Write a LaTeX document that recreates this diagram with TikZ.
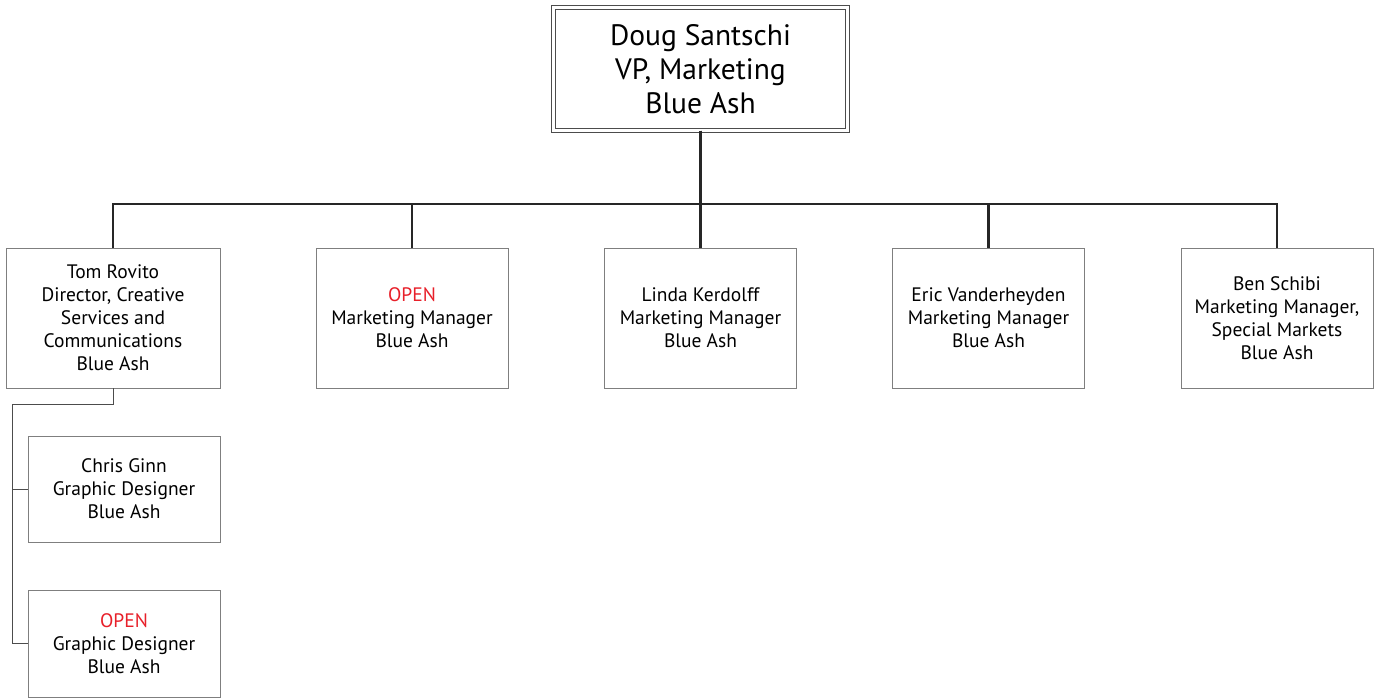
\documentclass[tikz,border=0pt]{standalone}
\usepackage{fontspec}
\setmainfont{PT Sans}
\definecolor{openred}{HTML}{E8202A}
\definecolor{boxgray}{HTML}{7F7F7F}
\begin{document}
\begin{tikzpicture}[x=1pt,y=1pt,
  person/.style={draw=boxgray,line width=0.9pt,fill=white,align=center,inner sep=0pt,
    font=\fontsize{19.5}{23}\selectfont},
  mgr/.style={person,minimum width=192,minimum height=140},
  bus/.style={line width=2.2pt,draw=black!85},
  sub/.style={line width=0.9pt,draw=black!70}]
\useasboundingbox (0,0) rectangle (1377,-698);
\node[draw=black!70,double,double distance=3.5pt,line width=0.9pt,minimum width=294,minimum height=123,
  align=center,inner sep=0pt,font=\fontsize{29.5}{34}\selectfont] (top) at (700.5,-69) {Doug Santschi\\VP, Marketing\\Blue Ash};
\coordinate (busy) at (0,-204);
\node[person,minimum width=214,minimum height=140] (tom) at (113,-318) {Tom Rovito\\Director, Creative\\Services and\\Communications\\Blue Ash};
\node[mgr] (open) at (412,-318) {\textcolor{openred}{OPEN}\\Marketing Manager\\Blue Ash};
\node[mgr] (linda) at (700.5,-318) {Linda Kerdolff\\Marketing Manager\\Blue Ash};
\node[mgr] (eric) at (988.5,-318) {Eric Vanderheyden\\Marketing Manager\\Blue Ash};
\node[mgr] (ben) at (1277,-318) {Ben Schibi\\Marketing Manager,\\Special Markets\\Blue Ash};
\node[person,minimum width=192,minimum height=106] (chris) at (124,-489) {Chris Ginn\\Graphic Designer\\Blue Ash};
\node[person,minimum width=192,minimum height=107] (open2) at (124,-643.5) {\textcolor{openred}{OPEN}\\Graphic Designer\\Blue Ash};
\foreach \c in {tom,open,linda,eric,ben}{
  \draw[bus] (top.south) -- (top.south |- busy) -| (\c.north);
}
\coordinate (lx) at (12,-404);
\draw[sub] (tom.south) |- (lx) |- (chris.west);
\draw[sub] (lx) |- (open2.west);
\end{tikzpicture}
\end{document}
